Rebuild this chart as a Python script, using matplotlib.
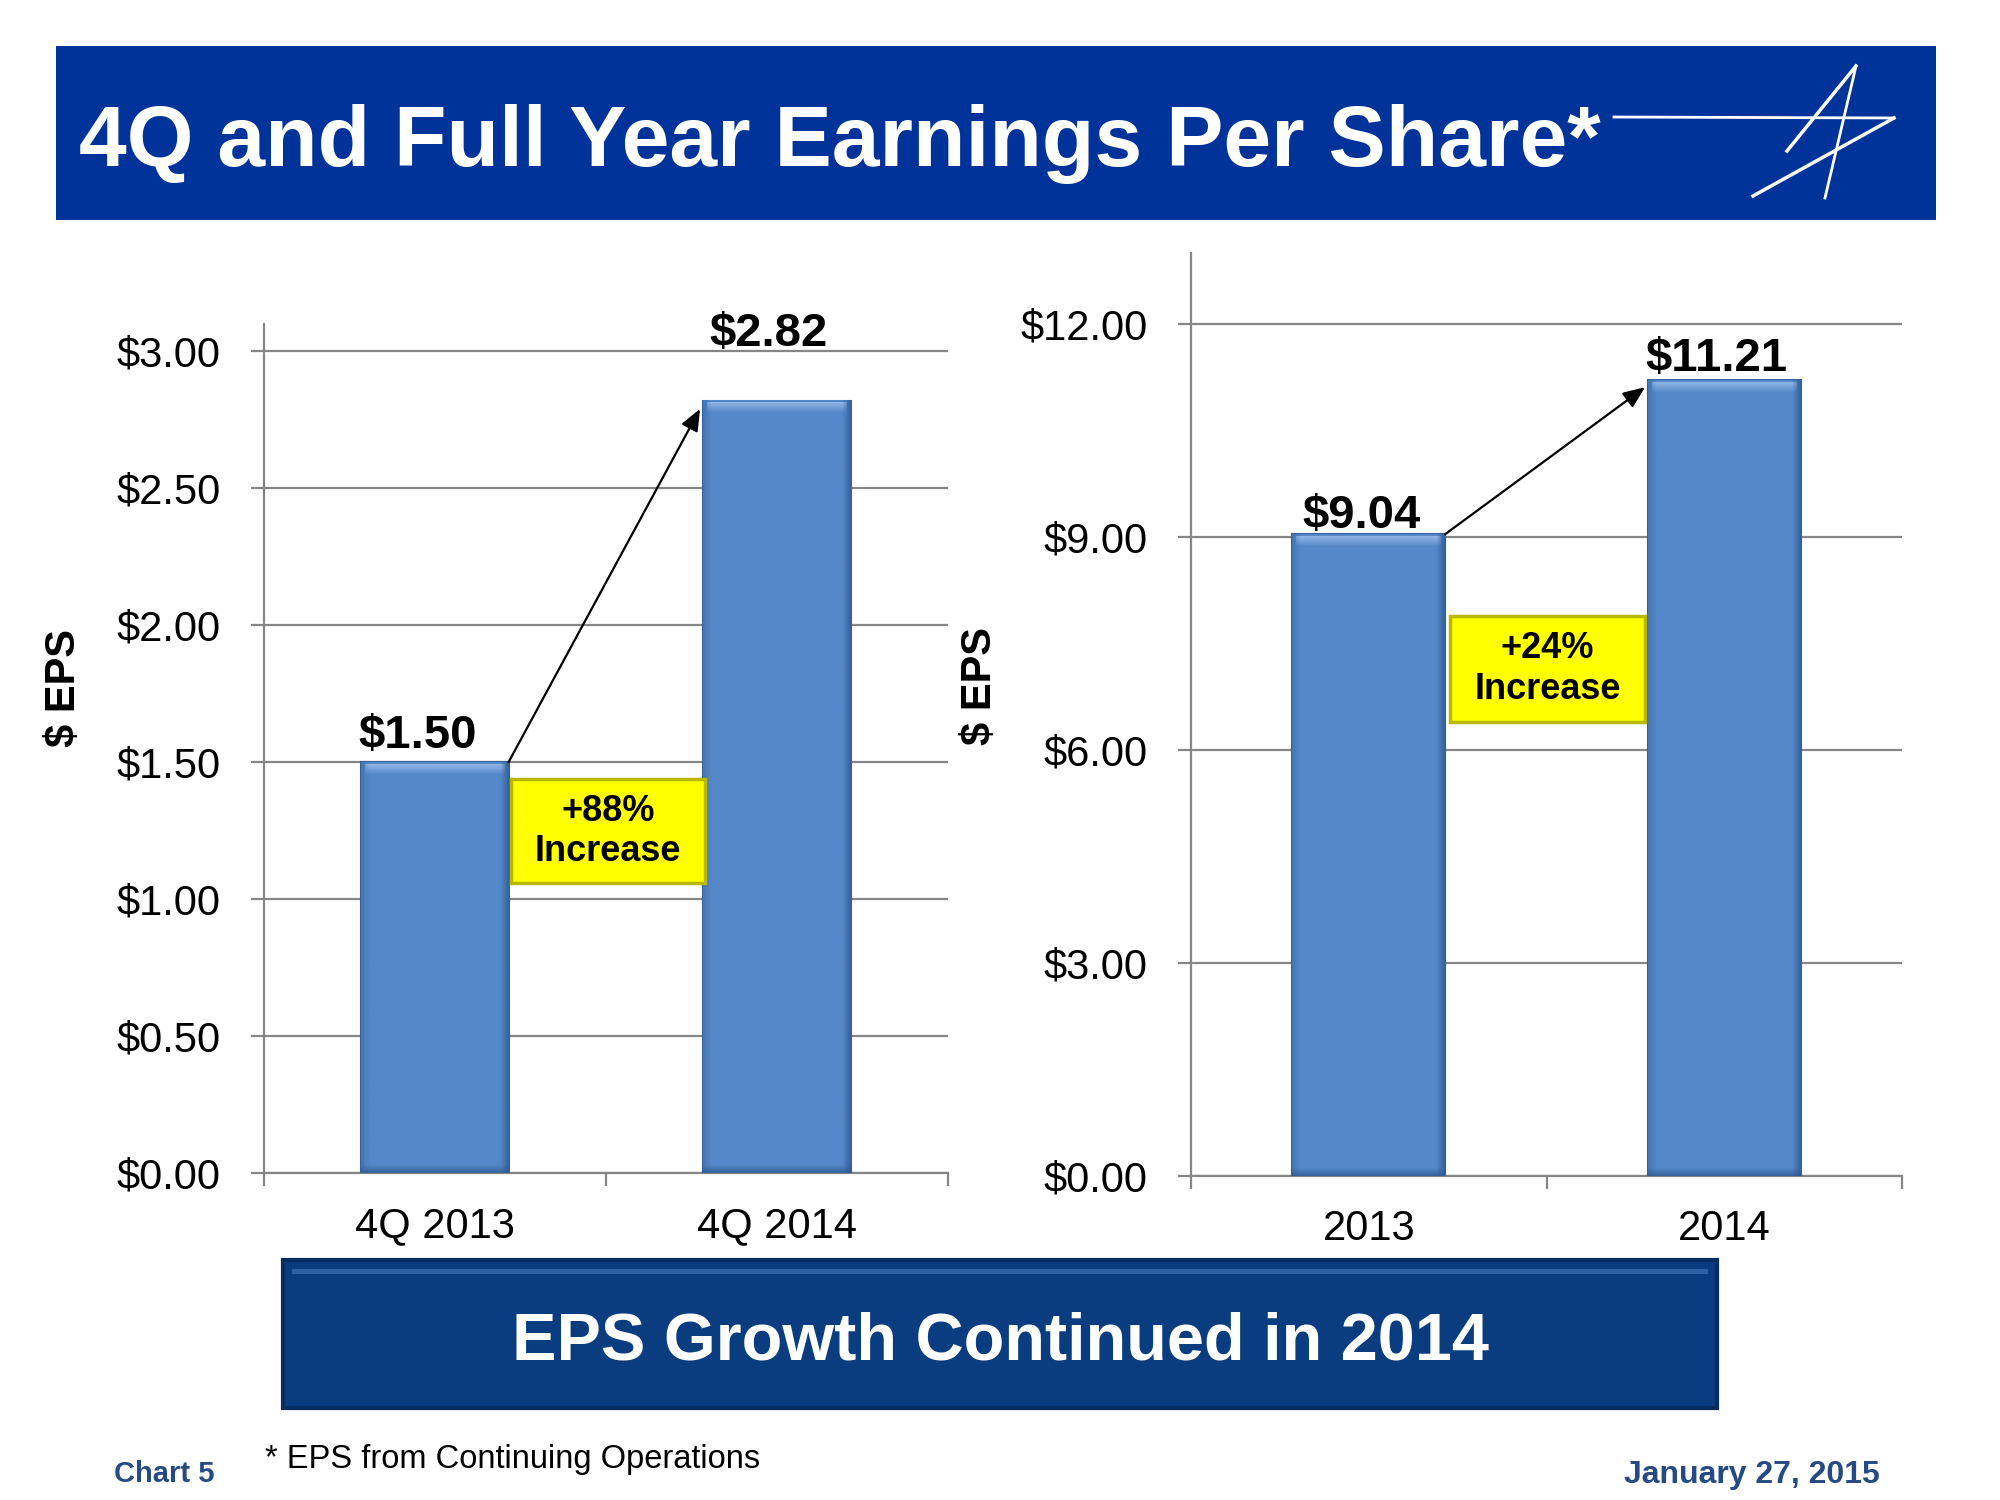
"""
4Q and full year earnings per share: two bar panels with growth callouts.
"""

import numpy as np
import matplotlib.pyplot as plt
from matplotlib.colors import to_rgb
from matplotlib.patches import Rectangle
from matplotlib.ticker import FuncFormatter

plt.rcParams["font.family"] = ["Liberation Sans", "DejaVu Sans"]

# data
quarter_labels = ["4Q 2013", "4Q 2014"]
quarter_eps = [1.50, 2.82]
quarter_growth = "+88%\nIncrease"

year_labels = ["2013", "2014"]
year_eps = [9.04, 11.21]
year_growth = "+24%\nIncrease"

quarter_ticks = [0.0, 0.5, 1.0, 1.5, 2.0, 2.5, 3.0]
year_ticks = [0.0, 3.0, 6.0, 9.0, 12.0]

BAR_COLOR = "#5588c9"
BAR_EDGE = "#35609a"
GRID = "#868686"
NAVY = "#00339a"
FOOT_BLUE = "#254a84"
PX = 72 / 100  # points per pixel at dpi 100

fig = plt.figure(figsize=(20, 15), dpi=100)


def bevel(ax, bar):
    # paint a bevelled look over a bar, sized in pixels
    (x0, y0), (x1, y1) = ax.transData.transform(
        [(bar.get_x(), 0), (bar.get_x() + bar.get_width(), bar.get_height())])
    w, h = max(int(x1 - x0), 2), max(int(y1 - y0), 2)
    base = np.array(to_rgb(BAR_COLOR))
    img = np.tile(base, (h, w, 1))
    light = np.array(to_rgb("#8fb4e6"))
    dark = np.array(to_rgb("#2f5a92"))
    for i in range(10):
        t = 1 - i / 10
        img[i + 2, 4:w - 4] = base + (light - base) * t
    for j in range(8):
        t = (1 - j / 8) * 0.8
        img[:, w - 1 - j] = img[:, w - 1 - j] + (dark - img[:, w - 1 - j]) * t
        img[h - 1 - j, :] = img[h - 1 - j, :] + (dark - img[h - 1 - j, :]) * t
        img[:, j] = img[:, j] + (dark - img[:, j]) * t * 0.5
    ax.imshow(img, extent=(bar.get_x(), bar.get_x() + bar.get_width(), 0,
                           bar.get_height()),
              aspect="auto", zorder=3.5, interpolation="bilinear")


def panel(rect, labels, values, ymax, ticks, growth, box, arrow_end, label_offsets):
    ax = fig.add_axes(rect)
    xs = list(range(len(values)))
    bars = ax.bar(xs, values, width=0.43, color=BAR_COLOR, edgecolor=BAR_EDGE,
                  linewidth=1.5, zorder=3)
    ax.set_xlim(-0.5, len(values) - 0.5)
    ax.set_ylim(0, ymax)
    for bar in bars:
        bevel(ax, bar)
    ax.set_xlim(-0.5, len(values) - 0.5)
    ax.set_ylim(0, ymax)

    ax.set_yticks(ticks)
    ax.yaxis.set_major_formatter(FuncFormatter(lambda v, _: f"${v:.2f}"))
    ax.yaxis.grid(True, color=GRID, linewidth=1.6, zorder=0)
    ax.tick_params(axis="y", direction="out", length=13 * PX, width=1.6,
                   color=GRID, labelsize=30, pad=22)

    # category labels sit between boundary ticks
    ax.set_xticks([x - 0.5 for x in xs] + [xs[-1] + 0.5])
    ax.set_xticklabels([])
    ax.set_xticks(xs, minor=True)
    ax.set_xticklabels(labels, minor=True)
    ax.tick_params(axis="x", which="major", direction="out", length=13 * PX,
                   width=1.6, color=GRID)
    ax.tick_params(axis="x", which="minor", length=0, labelsize=30, pad=24)

    for side in ("top", "right"):
        ax.spines[side].set_visible(False)
    for side in ("left", "bottom"):
        ax.spines[side].set_color(GRID)
        ax.spines[side].set_linewidth(1.6)

    # value labels
    for bar, v, (dx, dy) in zip(bars, values, label_offsets):
        ax.annotate(f"${v:.2f}", (bar.get_x() + bar.get_width() / 2, v),
                    xytext=(dx * PX, dy * PX), textcoords="offset points",
                    ha="center", va="baseline", fontsize=34,
                    fontweight="bold", zorder=5)

    # growth arrow from first bar's top corner
    b0 = bars[0]
    ax.annotate("", xy=arrow_end, xytext=(b0.get_x() + b0.get_width(), values[0]),
                arrowprops=dict(arrowstyle="-|>,head_length=0.6,head_width=0.25",
                                mutation_scale=22, color="black", lw=1.6,
                                shrinkA=0, shrinkB=0), zorder=4)

    x0, y0, x1, y1 = box
    ax.add_patch(Rectangle((x0, y0), x1 - x0, y1 - y0, facecolor="#ffff00",
                           edgecolor="#b8b800", linewidth=2.5, zorder=4))
    ax.text((x0 + x1) / 2, (y0 + y1) / 2, growth, ha="center", va="center",
            fontsize=26, fontweight="bold", linespacing=1.2, zorder=5)
    return ax


panel([0.132, 0.218, 0.342, 0.566], quarter_labels, quarter_eps, 3.1,
      quarter_ticks, quarter_growth, (0.222, 1.058, 0.789, 1.438),
      (0.775, 2.79), [(-17, 14), (-8, 55)])
panel([0.5955, 0.216, 0.3555, 0.6153], year_labels, year_eps, 13.0,
      year_ticks, year_growth, (0.229, 6.39, 0.777, 7.89),
      (0.777, 11.11), [(-7, 6), (-8, 9)])

fig.text(64 / 2000, 1 - 688 / 1500, "$ EPS", rotation=90, ha="center",
         va="center", fontsize=30, fontweight="bold")
fig.text(980 / 2000, 1 - 686 / 1500, "$ EPS", rotation=90, ha="center",
         va="center", fontsize=30, fontweight="bold")

# title banner
fig.patches.append(Rectangle((56 / 2000, 1 - 220 / 1500), 1880 / 2000,
                             174 / 1500, transform=fig.transFigure,
                             facecolor=NAVY, edgecolor="none", zorder=0))
fig.text(79 / 2000, 1 - 166 / 1500, "4Q and Full Year Earnings Per Share*",
         color="white", fontsize=61.8, fontweight="bold", va="baseline")

# logo strokes
logo = [((1614, 117), (1894, 118), 2.0),
        ((1894, 118), (1753, 196), 2.5),
        ((1787, 151), (1856, 66), 2.5),
        ((1856, 66), (1825, 198), 2.0)]
for (xa, ya), (xb, yb), lw in logo:
    fig.add_artist(plt.Line2D([xa / 2000, xb / 2000],
                              [1 - ya / 1500, 1 - yb / 1500],
                              color="white", lw=lw, transform=fig.transFigure))

# bottom message banner
fig.patches.append(Rectangle((283 / 2000, 1 - 1408 / 1500), 1434 / 2000,
                             148 / 1500, transform=fig.transFigure,
                             facecolor="#0a3d80", edgecolor="#062c60",
                             linewidth=3, zorder=0))
fig.patches.append(Rectangle((292 / 2000, 1 - 1274 / 1500), 1416 / 2000,
                             5 / 1500, transform=fig.transFigure,
                             facecolor="#2d5fa3", edgecolor="none", zorder=1))
fig.text(0.5, 1 - 1360 / 1500, "EPS Growth Continued in 2014", color="white",
         fontsize=48, fontweight="bold", ha="center", va="baseline")

# footer
fig.text(265 / 2000, 1 - 1468 / 1500, "* EPS from Continuing Operations",
         fontsize=23.5, va="baseline")
fig.text(114 / 2000, 1 - 1482 / 1500, "Chart 5", fontsize=21,
         fontweight="bold", color=FOOT_BLUE, va="baseline")
fig.text(1880 / 2000, 1 - 1483 / 1500, "January 27, 2015", fontsize=23,
         fontweight="bold", color=FOOT_BLUE, ha="right", va="baseline")

fig.savefig("out.png", dpi=100, facecolor="white")
